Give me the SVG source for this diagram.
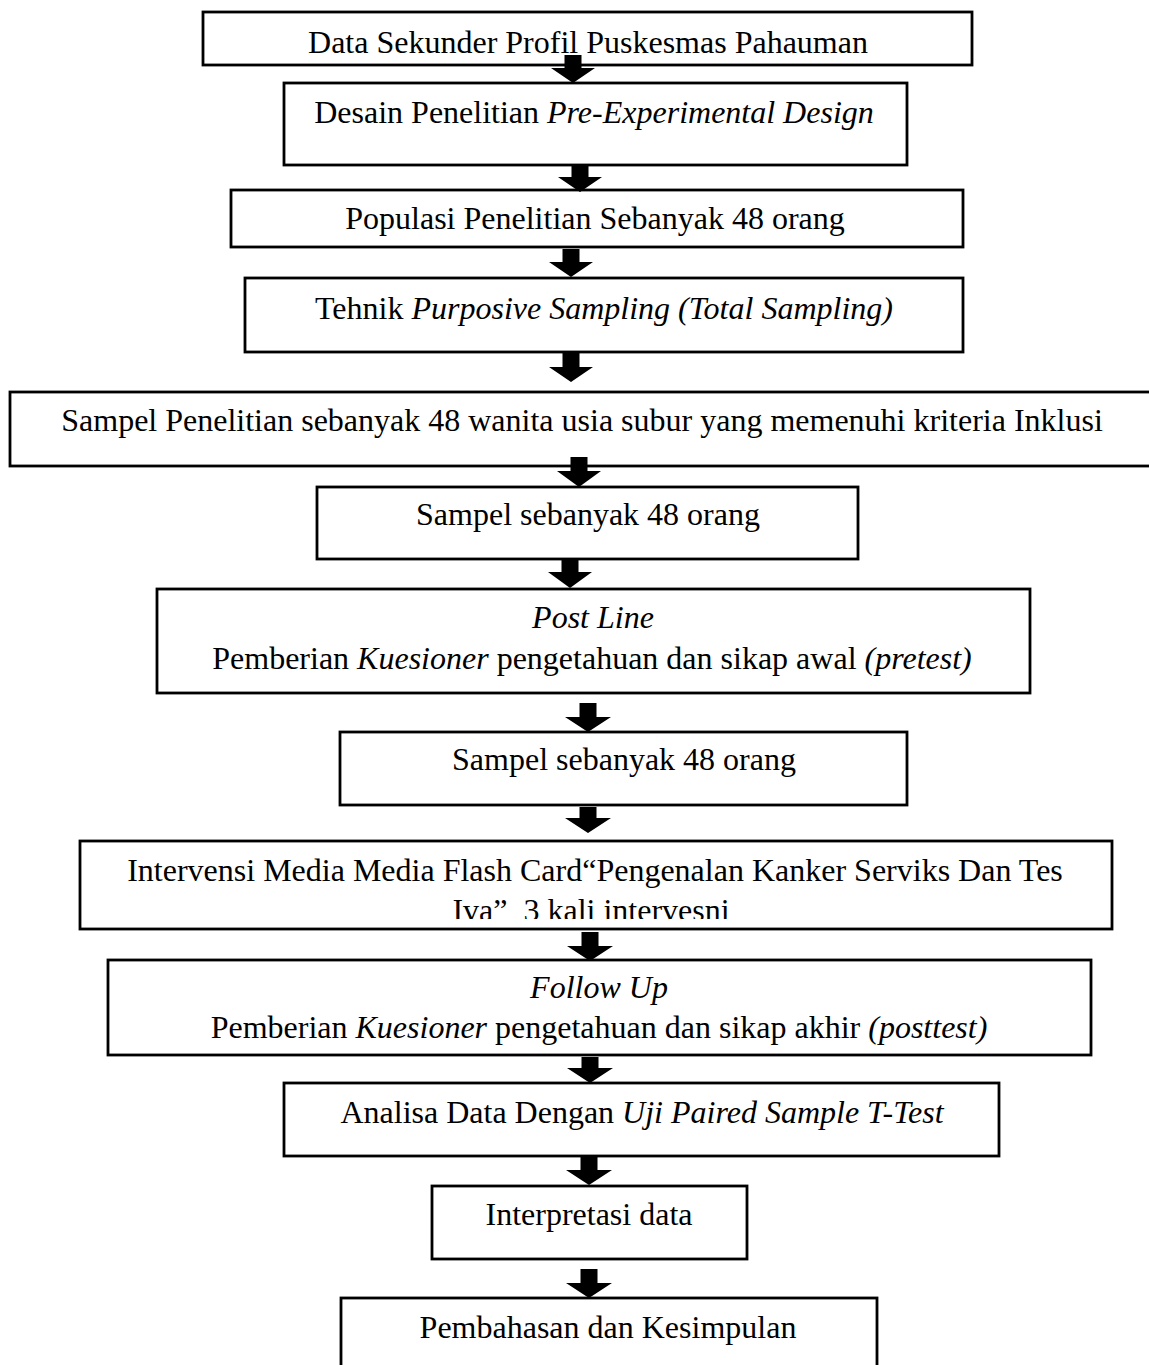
<svg xmlns="http://www.w3.org/2000/svg" width="1149" height="1365" viewBox="0 0 1149 1365">
<style>
.box{fill:#fff;stroke:#000;stroke-width:2.8}
.t{font-family:"Liberation Serif","Times New Roman",serif;font-size:32px;fill:#000;text-anchor:middle;white-space:pre}
.i{font-style:italic}
.arr{fill:#000}
</style>
<defs>
<clipPath id="clip9"><rect x="0" y="840" width="1149" height="79"/></clipPath>
</defs>
<rect width="1149" height="1365" fill="#fff"/>
<g id="n1"><rect class="box" x="203" y="12" width="769" height="53"/><text class="t" x="588" y="53">Data Sekunder Profil Puskesmas Pahauman</text></g>
<g id="n2"><rect class="box" x="284" y="83" width="623" height="82"/><text class="t" x="594" y="123">Desain Penelitian <tspan class="i">Pre-Experimental Design</tspan></text></g>
<g id="n3"><rect class="box" x="231" y="190" width="732" height="57"/><text class="t" x="595" y="229">Populasi Penelitian Sebanyak 48 orang</text></g>
<g id="n4"><rect class="box" x="245" y="278" width="718" height="74"/><text class="t" x="604" y="319">Tehnik <tspan class="i">Purposive Sampling (Total Sampling)</tspan></text></g>
<g id="n5"><rect class="box" x="10" y="392" width="1150" height="74"/><text class="t" x="582" y="431">Sampel Penelitian sebanyak 48 wanita usia subur yang memenuhi kriteria Inklusi</text></g>
<g id="n6"><rect class="box" x="317" y="487" width="541" height="72"/><text class="t" x="588" y="525">Sampel sebanyak 48 orang</text></g>
<g id="n7"><rect class="box" x="157" y="589" width="873" height="104"/><text class="t i" x="593" y="628">Post Line</text><text class="t" x="592" y="669">Pemberian <tspan class="i">Kuesioner</tspan> pengetahuan dan sikap awal <tspan class="i">(pretest)</tspan></text></g>
<g id="n8"><rect class="box" x="340" y="732" width="567" height="73"/><text class="t" x="624" y="770">Sampel sebanyak 48 orang</text></g>
<g id="n9"><rect class="box" x="80" y="841" width="1032" height="88"/><text class="t" x="595" y="881">Intervensi Media Media Flash Card“Pengenalan Kanker Serviks Dan Tes</text><text class="t" x="591" y="921" clip-path="url(#clip9)">Iva”  3 kali intervesni</text></g>
<g id="n10"><rect class="box" x="108" y="960" width="983" height="95"/><text class="t i" x="599" y="998">Follow Up</text><text class="t" x="599" y="1038">Pemberian <tspan class="i">Kuesioner</tspan> pengetahuan dan sikap akhir <tspan class="i">(posttest)</tspan></text></g>
<g id="n11"><rect class="box" x="284" y="1083" width="715" height="73"/><text class="t" x="642" y="1123">Analisa Data Dengan <tspan class="i">Uji Paired Sample T-Test</tspan></text></g>
<g id="n12"><rect class="box" x="432" y="1186" width="315" height="73"/><text class="t" x="589" y="1225">Interpretasi data</text></g>
<g id="n13"><rect class="box" x="341" y="1298" width="536" height="82"/><text class="t" x="608" y="1338">Pembahasan dan Kesimpulan</text></g>
<g id="connectors">
<polygon class="arr" points="564.5,55 581.5,55 581.5,68 595,68 573,83 551,68 564.5,68"/>
<polygon class="arr" points="571.5,166 588.5,166 588.5,177 602,177 580,192 558,177 571.5,177"/>
<polygon class="arr" points="562.5,249 579.5,249 579.5,262 593,262 571,277 549,262 562.5,262"/>
<polygon class="arr" points="562.5,353 579.5,353 579.5,367 593,367 571,382 549,367 562.5,367"/>
<polygon class="arr" points="570.5,457 587.5,457 587.5,471 601,471 579,487 557,471 570.5,471"/>
<polygon class="arr" points="561.5,560 578.5,560 578.5,572 592,572 570,588 548,572 561.5,572"/>
<polygon class="arr" points="579.5,703 596.5,703 596.5,717 611,717 588,732 565,717 579.5,717"/>
<polygon class="arr" points="579.5,807 596.5,807 596.5,818 611,818 588,833 565,818 579.5,818"/>
<polygon class="arr" points="581.5,932 598.5,932 598.5,946 613,946 590,961 567,946 581.5,946"/>
<polygon class="arr" points="581.5,1057 598.5,1057 598.5,1068 613,1068 590,1083 567,1068 581.5,1068"/>
<polygon class="arr" points="580.5,1157 597.5,1157 597.5,1170 612,1170 589,1185 566,1170 580.5,1170"/>
<polygon class="arr" points="580.5,1269 597.5,1269 597.5,1283 612,1283 589,1298 566,1283 580.5,1283"/>
</g>
</svg>
